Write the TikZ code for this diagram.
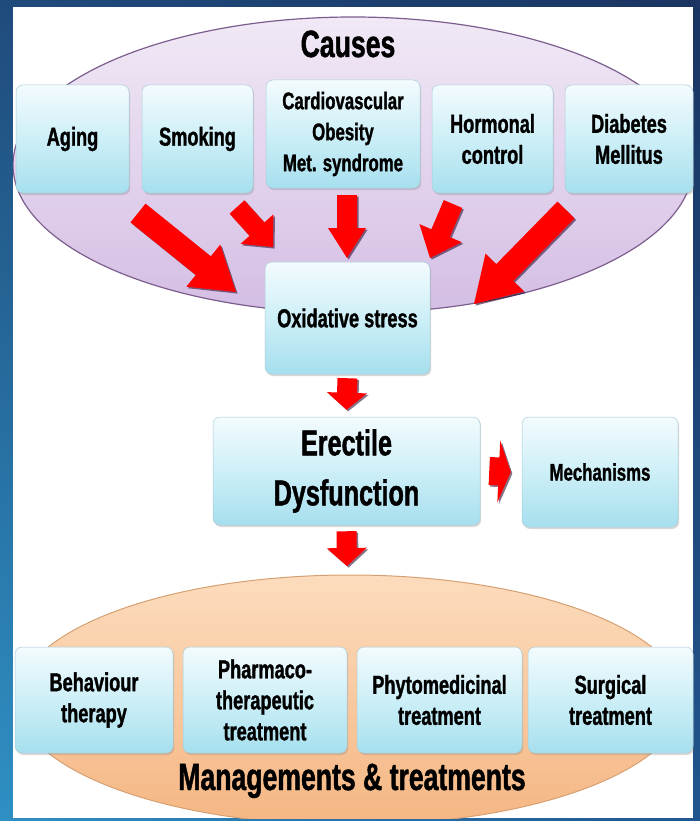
\documentclass[tikz,border=0pt]{standalone}
\usepackage{fontspec}
\newfontfamily\cf[FakeStretch=0.7, FakeBold=1.2]{Liberation Sans}
\usetikzlibrary{calc,shadows,shadings}
\definecolor{outTL}{HTML}{1F4B7C}
\definecolor{outTR}{HTML}{1A3562}
\definecolor{outBL}{HTML}{2F90C3}
\definecolor{outBR}{HTML}{21558E}
\definecolor{lavtop}{HTML}{F1E9F6}
\definecolor{lavbot}{HTML}{D4BEE4}
\definecolor{lavedge}{HTML}{7C5E8E}
\definecolor{peachtop}{HTML}{FCDCBD}
\definecolor{peachbot}{HTML}{F5B683}
\definecolor{peachedge}{HTML}{D6A072}
\definecolor{boxtop}{HTML}{F3FBFE}
\definecolor{boxmid}{HTML}{CDEFF7}
\definecolor{boxbot}{HTML}{A6DFEE}
\definecolor{boxedge}{HTML}{A9CDD8}
\definecolor{arrowred}{HTML}{FF0000}
\tikzset{
  cbox/.style={rectangle, rounded corners=7pt, draw=boxedge, line width=0.5pt,
    top color=boxtop, bottom color=boxbot, middle color=boxmid,
    drop shadow={shadow xshift=1.2pt, shadow yshift=-2pt, opacity=0.3},
    align=center, inner sep=1pt, text=black,
    font=\cf\bfseries\fontsize{26}{31}\selectfont},
  redarrow/.style={fill=arrowred,
    drop shadow={shadow xshift=1.6pt, shadow yshift=-1.6pt, fill=black!70!violet, opacity=0.55}},
  title/.style={anchor=base, text=black, font=\cf\bfseries\fontsize{38}{40}\selectfont}
}
% #1 tail, #2 tip, #3 shaft half width, #4 head half width, #5 head length
\newcommand\blockarrow[5]{%
  \coordinate (neck) at ($(#2)!#5!(#1)$);
  \path[redarrow] ($(#1)!#3!90:(#2)$) -- ($(neck)!#3!90:(#2)$) -- ($(neck)!#4!90:(#2)$)
    -- (#2) -- ($(neck)!#4!-90:(#2)$) -- ($(neck)!#3!-90:(#2)$) -- ($(#1)!#3!-90:(#2)$) -- cycle;}
\begin{document}
\begin{tikzpicture}[x=1pt, y=-1pt]
\useasboundingbox (0,0) rectangle (700,821);
% outer frame and white panel
\shade[upper left=outTL, upper right=outTR, lower left=outBL, lower right=outBR] (0,0) rectangle (700,821);
\fill[white] (13,7) rectangle (693,818);
% ellipses
\begin{scope}
  \clip (13,7) rectangle (693,818);
  \draw[lavedge, line width=1.2pt, top color=lavtop, bottom color=lavbot]
    (353,165) ellipse [x radius=340pt, y radius=148pt];
  \draw[peachedge, line width=1pt, top color=peachtop, bottom color=peachbot]
    (350,700) ellipse [x radius=333pt, y radius=125pt];
\end{scope}
% titles
\node[title] (causes) at (348,57) {Causes};
\node[title] (mgmt) at (352,790) {Managements \& treatments};
% causes
\node[cbox, minimum width=113pt, minimum height=108pt] (aging) at (72.5,139) {Aging};
\node[cbox, minimum width=111pt, minimum height=108pt] (smoking) at (197.5,139) {Smoking};
\node[cbox, minimum width=154pt, minimum height=108pt, font=\cf\bfseries\fontsize{24}{31}\selectfont] (cardio) at (343,134) {Cardiovascular\\Obesity\\Met. syndrome};
\node[cbox, minimum width=121pt, minimum height=108pt] (hormonal) at (492.5,139) {Hormonal\\control};
\node[cbox, minimum width=128pt, minimum height=108pt] (diabetes) at (629,139) {Diabetes\\Mellitus};
% central chain
\node[cbox, minimum width=165pt, minimum height=112pt] (ox) at (347.5,318) {Oxidative stress};
\node[cbox, minimum width=267pt, minimum height=108pt, font=\cf\bfseries\fontsize{36}{50}\selectfont] (ed) at (346.5,471) {Erectile\\Dysfunction};
\node[cbox, minimum width=156pt, minimum height=110pt, font=\cf\bfseries\fontsize{24}{28}\selectfont] (mech) at (600,472) {Mechanisms};
% treatments
\node[cbox, minimum width=158pt, minimum height=106pt] (behav) at (94,700) {Behaviour\\therapy};
\node[cbox, minimum width=164pt, minimum height=106pt] (pharma) at (265,700) {Pharmaco-\\therapeutic\\treatment};
\node[cbox, minimum width=165pt, minimum height=106pt] (phyto) at (439.5,700) {Phytomedicinal\\treatment};
\node[cbox, minimum width=165pt, minimum height=106pt] (surg) at (610.5,700) {Surgical\\treatment};
% arrow end points
\coordinate (agingT) at (138,213);   \coordinate (agingH) at (236,292);
\coordinate (smokT) at (237,207);    \coordinate (smokH) at (273,247);
\coordinate (cardT) at (347,195);    \coordinate (cardH) at (347,258);
\coordinate (hormT) at (453,204);    \coordinate (hormH) at (430,258);
\coordinate (diabT) at (566,210);    \coordinate (diabH) at (474,304);
\coordinate (oxT) at ($(ox.south)+(0,4)$);   \coordinate (edH) at ($(ed.north)+(0,-7)$);
\coordinate (edT) at ($(ed.south)+(0,6)$);   \coordinate (mgH) at (347,566);
\coordinate (meT) at ($(ed.east)+(9,0)$);    \coordinate (meH) at ($(mech.west)+(-11,0)$);
% arrows
\blockarrow{agingT}{agingH}{12pt}{27pt}{42pt}
\blockarrow{smokT}{smokH}{10pt}{22pt}{24pt}
\blockarrow{cardT}{cardH}{10pt}{19pt}{30pt}
\blockarrow{hormT}{hormH}{10pt}{23pt}{27pt}
\blockarrow{diabT}{diabH}{12pt}{27pt}{44pt}
\blockarrow{oxT}{edH}{10pt}{20pt}{17pt}
\blockarrow{edT}{mgH}{10pt}{20pt}{18pt}
\blockarrow{meT}{meH}{14pt}{31pt}{12pt}
\end{tikzpicture}
\end{document}
